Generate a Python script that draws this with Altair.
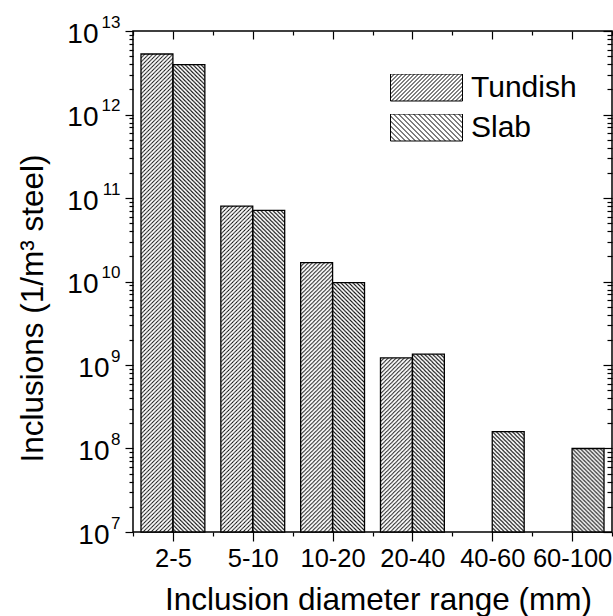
import base64
import json

import altair as alt
import pandas as pd

# ---- data -------------------------------------------------------------
categories = ["2-5", "5-10", "10-20", "20-40", "40-60", "60-100"]
series = ["Tundish", "Slab"]
tundish = [5.3e12, 8.0e10, 1.68e10, 1.22e9, None, None]
slab = [3.95e12, 7.1e10, 9.7e9, 1.35e9, 1.59e8, 1.0e8]

y_min, y_max = 1e7, 1e13
decades = [10.0 ** e for e in range(7, 14)]

rows = []
for cat, t, s in zip(categories, tundish, slab):
    if t is not None:
        rows.append({"range": cat, "series": "Tundish", "value": t})
    if s is not None:
        rows.append({"range": cat, "series": "Slab", "value": s})
bars = pd.DataFrame(rows)

# log ticks: decades plus 2..9 minor steps
log_ticks = []
for d in decades[:-1]:
    log_ticks += [d * k for k in range(1, 10)]
log_ticks.append(decades[-1])

frame = pd.DataFrame({"pos": [0, len(categories)], "value": [y_min, y_max]})
x_ticks = [i * 0.5 for i in range(2 * len(categories) + 1)]

FONT = "Liberation Sans"
W, H = 479, 501


# ---- hatch fills --------------------------------------------------------
def hatch_url(direction, period, stroke_width):
    p = period
    if direction == "/":
        d = f"M0,{p} L{p},0 M-1,1 L1,-1 M{p-1},{p+1} L{p+1},{p-1}"
    else:
        d = f"M0,0 L{p},{p} M-1,{p-1} L1,{p+1} M{p-1},-1 L{p+1},1"
    svg = (
        "<svg xmlns='http://www.w3.org/2000/svg' width='100%' height='100%'>"
        f"<defs><pattern id='h' width='{p}' height='{p}' patternUnits='userSpaceOnUse'>"
        f"<path d='{d}' stroke='#000' stroke-width='{stroke_width}' fill='none'/>"
        "</pattern></defs>"
        "<rect width='100%' height='100%' fill='white'/>"
        "<rect width='100%' height='100%' fill='url(#h)'/></svg>"
    )
    return "data:image/svg+xml;base64," + base64.b64encode(svg.encode()).decode()


def swatch_path(direction, period_px, half_w=36.0, half_h=13.5):
    """Hatched rectangle as a custom symbol path in unit coordinates."""
    s = half_w
    hw, hh = 1.0, half_h / s
    p = period_px / s
    parts = [f"M{-hw},{-hh}L{hw},{-hh}L{hw},{hh}L{-hw},{hh}Z"]
    c = -hw - hh + p
    while c < hw + hh:
        x0 = max(-hw, c - hh)
        x1 = min(hw, c + hh)
        if direction == "/":
            parts.append(f"M{x0:.4f},{c - x0:.4f}L{x1:.4f},{c - x1:.4f}")
        else:
            parts.append(f"M{x0:.4f},{x0 - c:.4f}L{x1:.4f},{x1 - c:.4f}")
        c += p
    return "".join(parts)


tundish_url = hatch_url("/", 4, 0.9)
slab_url = hatch_url("\\", 4, 1.0)

is_major_log = "abs(log(datum.value)/LN10 - round(log(datum.value)/LN10)) < 0.001"
exponent = "round(log(datum.value)/LN10)"
is_center = "datum.value % 1 != 0"
cat_array = json.dumps(categories)

y_scale = alt.Scale(type="log", domain=[y_min, y_max], nice=False)
x_band = alt.X("range:N", scale=alt.Scale(domain=categories, paddingInner=0, paddingOuter=0), axis=None)
x_off = alt.XOffset("series:N", scale=alt.Scale(domain=series, paddingInner=0, paddingOuter=0.25))
x_lin = alt.Scale(domain=[0, len(categories)], nice=False, zero=False)

# ---- bars: hatched fill ------------------------------------------------
fills = alt.Chart(bars).transform_calculate(
    url=f"datum.series === 'Tundish' ? '{tundish_url}' : '{slab_url}'"
).mark_image(aspect=False).encode(
    x=x_band,
    xOffset=x_off,
    y=alt.Y(
        "value:Q",
        scale=y_scale,
        axis=alt.Axis(
            orient="left",
            values=log_ticks,
            tickSize={"condition": {"test": is_major_log, "value": 8}, "value": 4},
            labelExpr=f"({is_major_log}) && {exponent} >= 10 ? '10' : ''",
            labelFontSize=28,
            labelPadding=27,
            labelOffset=3,
            labelOverlap=False,
            title="Inclusions (1/m³ steel)",
            titleFontSize=31.5,
            titleFontWeight="normal",
            titleAngle=270,
            titleBaseline="alphabetic",
            titleX=-91,
            titleY=277,
        ),
    ),
    y2=alt.datum(y_min),
    url=alt.Url("url:N"),
)

# ---- bars: outline -----------------------------------------------------
outlines = alt.Chart(bars).mark_bar(fillOpacity=0, stroke="black", strokeWidth=1.3).encode(
    x=x_band,
    xOffset=x_off,
    y=alt.Y(
        "value:Q",
        scale=y_scale,
        axis=alt.Axis(
            orient="left",
            values=decades[:3],
            ticks=False,
            tickSize=0,
            labelExpr="'10'",
            labelFontSize=28,
            labelPadding=24,
            labelOffset=3,
            labelOverlap=False,
            title=None,
        ),
    ),
    y2=alt.datum(y_min),
)

# ---- bottom axis + right inward ticks ---------------------------------
axes_a = alt.Chart(frame).mark_point(opacity=0).encode(
    x=alt.X(
        "pos:Q",
        scale=x_lin,
        axis=alt.Axis(
            orient="bottom",
            values=x_ticks,
            tickSize={"condition": {"test": is_center, "value": 9}, "value": 4},
            labelExpr=f"{is_center} ? {cat_array}[floor(datum.value)] : ''",
            labelFontSize=25.5,
            labelPadding=5,
            labelFlush=False,
            labelOverlap=False,
            title="Inclusion diameter range (mm)",
            titleFontSize=31.5,
            titleFontWeight="normal",
            titleBaseline="alphabetic",
            titleX=245,
            titleY=77,
        ),
    ),
    y=alt.Y(
        "value:Q",
        scale=y_scale,
        axis=alt.Axis(
            orient="right",
            values=log_ticks,
            tickSize={"condition": {"test": is_major_log, "value": -9}, "value": -5},
            labels=False,
            title=None,
        ),
    ),
)

# ---- top inward ticks + exponent labels --------------------------------
axes_b = alt.Chart(frame).mark_point(opacity=0).encode(
    x=alt.X(
        "pos:Q",
        scale=x_lin,
        axis=alt.Axis(
            orient="top",
            values=x_ticks,
            tickSize={"condition": {"test": is_center, "value": -8}, "value": -4},
            labels=False,
            title=None,
        ),
    ),
    y=alt.Y(
        "value:Q",
        scale=y_scale,
        axis=alt.Axis(
            orient="left",
            values=decades,
            ticks=False,
            tickSize=0,
            labelExpr=f"'' + {exponent}",
            labelFontSize=17,
            labelAlign="right",
            labelPadding=13,
            labelOffset=-9,
            labelOverlap=False,
            title=None,
        ),
    ),
)

# ---- legend with hatched swatches --------------------------------------
legend_layer = alt.Chart(bars).mark_point(
    opacity=0, filled=False, stroke="black", strokeWidth=1
).encode(
    shape=alt.Shape(
        "series:N",
        scale=alt.Scale(domain=series, range=[swatch_path("/", 4), swatch_path("\\", 5)]),
        legend=alt.Legend(
            title=None,
            orient="none",
            legendX=257,
            legendY=43,
            padding=0,
            symbolSize=5184,
            symbolStrokeColor="black",
            symbolFillColor="white",
            symbolStrokeWidth=1.0,
            symbolOpacity=1,
            clipHeight=27,
            rowPadding=9,
            labelOffset=8,
            labelFontSize=30,
            labelFont=FONT,
            labelColor="black",
        ),
    )
)

chart = (
    alt.layer(fills, outlines, axes_a, axes_b, legend_layer)
    .resolve_scale(x="independent")
    .resolve_axis(x="independent", y="independent")
    .properties(
        width=W,
        height=H,
        padding={"left": 133, "top": 31, "right": 1, "bottom": 84},
        autosize=alt.AutoSizeParams(type="none"),
        background="white",
    )
    .configure_view(stroke="black", strokeWidth=1.5)
    .configure_axis(
        domain=False,
        labelFont=FONT,
        titleFont=FONT,
        labelColor="black",
        titleColor="black",
        tickColor="black",
        tickWidth=1.2,
        grid=False,
        zindex=1,
    )
)

chart.save("out.html", embed_options={"renderer": "svg", "actions": False})
